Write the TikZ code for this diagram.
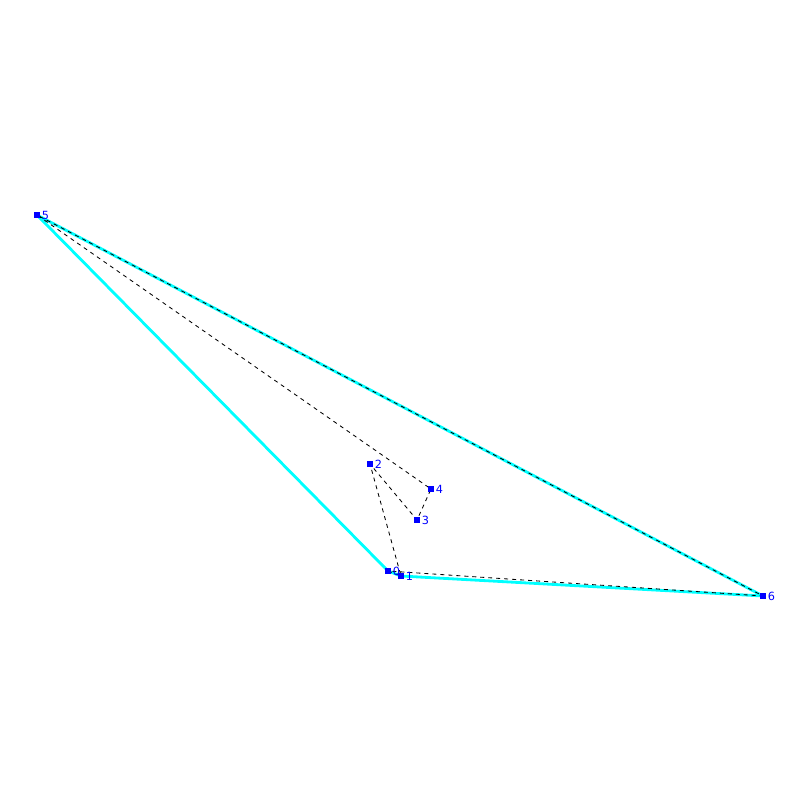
\documentclass[tikz,border=0pt]{standalone}
\usepackage{fontspec}
\setsansfont{DejaVu Sans}
\usetikzlibrary{positioning}
\definecolor{hullcyan}{RGB}{0,255,255}
\definecolor{vtxblue}{RGB}{0,0,255}

\begin{document}
\begin{tikzpicture}[x=0.025cm, y=-0.025cm,
  vtx/.style={draw=none, fill=vtxblue, minimum size=1.7mm, inner sep=0pt},
  lbl/.style={font=\sffamily\fontsize{8}{9}\selectfont, text=vtxblue, inner sep=0.6pt},
  hull/.style={draw=hullcyan, line width=2pt, line join=round},
  poly/.style={draw=black, line width=0.6pt, dash pattern=on 1mm off 1mm}]
  \useasboundingbox (0,0) rectangle (800,800);
  % points
  \foreach \n/\px/\py in {0/388/571, 1/401/576, 2/370/464, 3/417/520,
                           4/431/489, 5/37/215, 6/763/596}
    \coordinate (c\n) at (\px,\py);
  % convex hull
  \draw[hull] (c5) -- (c0) -- (c1) -- (c6) -- cycle;
  % polygon
  \draw[poly] (c0) -- (c1) -- (c2) -- (c3) -- (c4) -- (c5) -- (c6) -- cycle;
  % vertices
  \foreach \n in {0,...,6}
    \node[vtx, label={[lbl]right:\n}] (p\n) at (c\n) {};
\end{tikzpicture}
\end{document}
